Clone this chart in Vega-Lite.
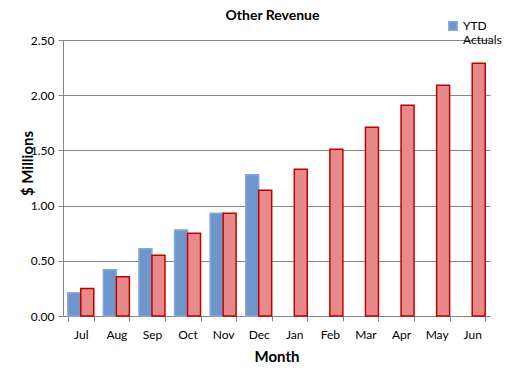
{
  "$schema": "https://vega.github.io/schema/vega-lite/v6.json",
  "width": 427,
  "height": 276,
  "autosize": "none",
  "padding": {"left": 63, "top": 40, "right": 21, "bottom": 57},
  "background": "white",
  "title": {"text": "Other Revenue", "font": "Lato", "fontSize": 14, "fontWeight": "bold", "color": "black", "offset": -3, "anchor": "middle", "dx": -4},
  "data": {"values": [
    {"month": "Jul", "series": "YTD Actuals", "value": 0.21},
    {"month": "Aug", "series": "YTD Actuals", "value": 0.42},
    {"month": "Sep", "series": "YTD Actuals", "value": 0.61},
    {"month": "Oct", "series": "YTD Actuals", "value": 0.78},
    {"month": "Nov", "series": "YTD Actuals", "value": 0.93},
    {"month": "Dec", "series": "YTD Actuals", "value": 1.28},
    {"month": "Jul", "series": "Budget", "value": 0.25},
    {"month": "Aug", "series": "Budget", "value": 0.355},
    {"month": "Sep", "series": "Budget", "value": 0.55},
    {"month": "Oct", "series": "Budget", "value": 0.75},
    {"month": "Nov", "series": "Budget", "value": 0.93},
    {"month": "Dec", "series": "Budget", "value": 1.14},
    {"month": "Jan", "series": "Budget", "value": 1.33},
    {"month": "Feb", "series": "Budget", "value": 1.51},
    {"month": "Mar", "series": "Budget", "value": 1.71},
    {"month": "Apr", "series": "Budget", "value": 1.91},
    {"month": "May", "series": "Budget", "value": 2.09},
    {"month": "Jun", "series": "Budget", "value": 2.29}
  ]},
  "mark": {"type": "bar", "strokeWidth": 1.5},
  "encoding": {
    "x": {
      "field": "month", "type": "nominal",
      "sort": ["Jul","Aug","Sep","Oct","Nov","Dec","Jan","Feb","Mar","Apr","May","Jun"],
      "scale": {"paddingInner": 0.27, "paddingOuter": 0.135},
      "axis": {
        "title": "Month", "titleFont": "Lato", "titleFontSize": 15, "titleFontWeight": "bold", "titleColor": "black", "titlePadding": 9,
        "labelAngle": 0, "labelFont": "Lato", "labelFontSize": 12, "labelColor": "black", "labelPadding": 8,
        "tickBand": "extent", "tickSize": 5, "tickColor": "#868686", "domainColor": "#868686", "grid": false
      }
    },
    "xOffset": {"field": "series", "type": "nominal", "sort": ["YTD Actuals", "Budget"], "scale": {"domain": ["YTD Actuals", "Budget"], "paddingInner": 0}},
    "y": {
      "field": "value", "type": "quantitative",
      "scale": {"domain": [0, 2.5], "nice": false},
      "axis": {
        "title": "$ Millions", "titleFont": "Lato", "titleFontSize": 15, "titleFontWeight": "bold", "titleColor": "black", "titlePadding": -5, "titleY": 123,
        "values": [0, 0.5, 1, 1.5, 2, 2.5], "format": ".2f",
        "labelFont": "Lato", "labelFontSize": 12, "labelColor": "black", "labelPadding": 4,
        "tickSize": 5, "tickColor": "#868686", "domainColor": "#868686",
        "grid": true, "gridColor": "#868686", "gridWidth": 1
      }
    },
    "fill": {
      "field": "series", "type": "nominal",
      "scale": {"domain": ["YTD Actuals", "Budget"], "range": ["#6F96CB", "#E88A8A"]},
      "legend": {
        "values": ["YTD Actuals"], "title": null, "orient": "none", "legendX": 384, "legendY": -20,
        "symbolType": "square", "symbolSize": 70, "symbolStrokeColor": "#4F81BD", "symbolStrokeWidth": 1.5,
        "labelFont": "Lato", "labelFontSize": 12, "labelColor": "black",
        "labelExpr": "datum.label == 'YTD Actuals' ? ['YTD', 'Actuals'] : datum.label",
        "labelLimit": 0
      }
    },
    "stroke": {
      "field": "series", "type": "nominal",
      "scale": {"domain": ["YTD Actuals", "Budget"], "range": ["#86A8D8", "#C00000"]},
      "legend": null
    }
  },
  "config": {"view": {"stroke": null}}
}
